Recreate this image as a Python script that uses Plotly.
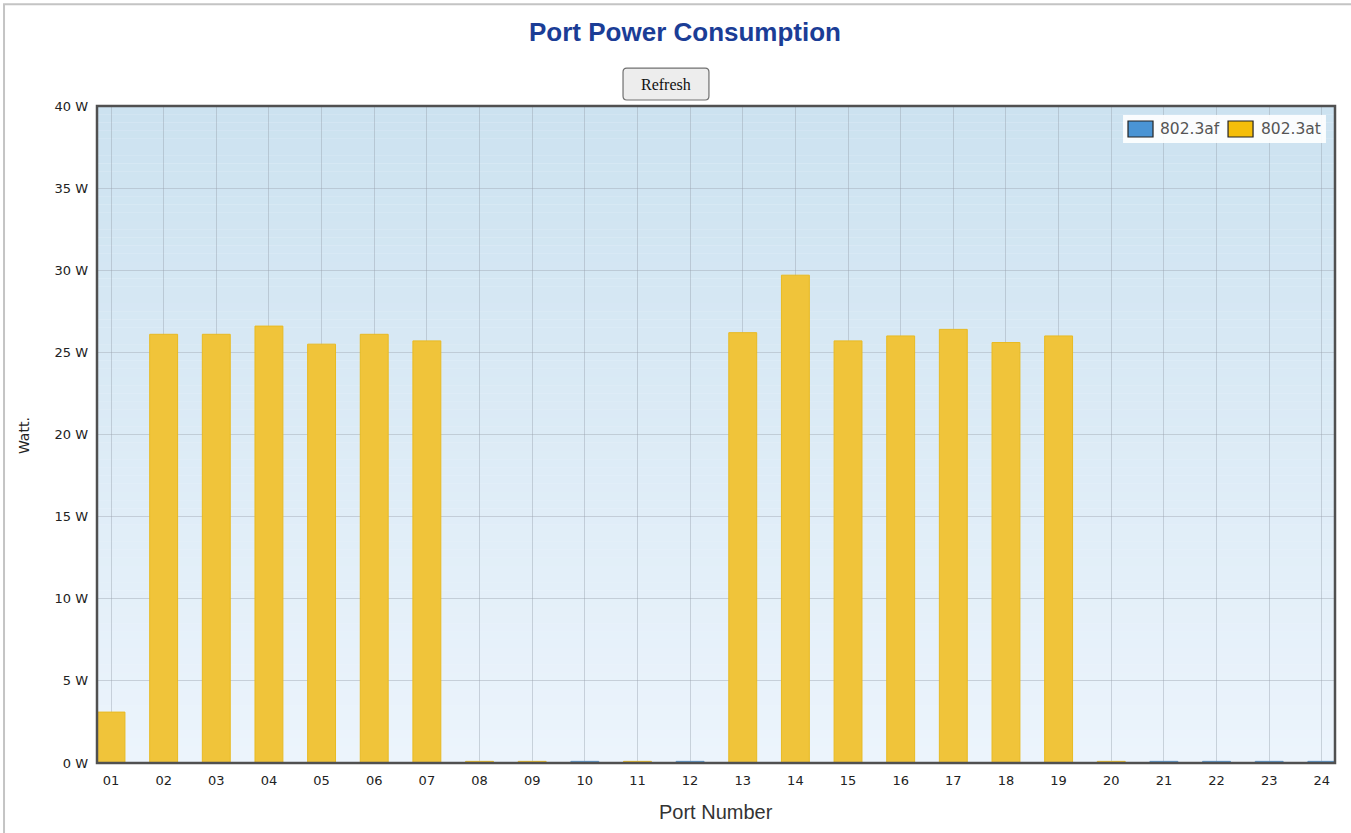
import plotly.graph_objects as go

# Port labels and measured power draw per PoE class (watts)
ports = [f"{i:02d}" for i in range(1, 25)]
af_watts = [None, None, None, None, None, None, None, None, None, 0.1, None, 0.1,
            None, None, None, None, None, None, None, None, 0.1, 0.1, 0.1, 0.1]
at_watts = [3.1, 26.1, 26.1, 26.6, 25.5, 26.1, 25.7, 0.1, 0.1, None, 0.1, None,
            26.2, 29.7, 25.7, 26.0, 26.4, 25.6, 26.0, 0.1, None, None, None, None]
y_ticks = list(range(0, 45, 5))
y_tick_text = [f"{v} W" for v in y_ticks]

Y_MAX = 40
TICK_FONT = dict(family="DejaVu Sans", size=13, color="#222222")
GRID_COLOR = "rgba(150,160,172,0.42)"

fig = go.Figure()
fig.add_trace(go.Bar(
    x=ports, y=af_watts, name="802.3af", width=0.53,
    marker=dict(color="#6FA8DA", line=dict(color="#5A95CC", width=1)),
))
fig.add_trace(go.Bar(
    x=ports, y=at_watts, name="802.3at", width=0.53,
    marker=dict(color="#F0C43A", line=dict(color="#E8BA22", width=1)),
))

shapes = []

# vertical blue gradient behind the plot area
n_bands = 80
top_rgb = (204, 226, 240)
bot_rgb = (236, 244, 252)
for i in range(n_bands):
    t = i / (n_bands - 1)
    r = round(bot_rgb[0] + (top_rgb[0] - bot_rgb[0]) * t)
    g = round(bot_rgb[1] + (top_rgb[1] - bot_rgb[1]) * t)
    b = round(bot_rgb[2] + (top_rgb[2] - bot_rgb[2]) * t)
    shapes.append(dict(
        type="rect", xref="paper", yref="y", layer="below",
        x0=0, x1=1, y0=Y_MAX * i / n_bands, y1=Y_MAX * (i + 1) / n_bands,
        fillcolor=f"rgb({r},{g},{b})", line=dict(width=0),
    ))

# dark frame round the plot area
shapes.append(dict(type="rect", xref="paper", yref="paper", x0=0, x1=1, y0=0, y1=1,
                   line=dict(color="#505050", width=2.5), layer="above"))

# light outer page border
shapes.append(dict(type="rect", xref="paper", yref="paper",
                   x0=-0.0751, x1=1.08, y0=-0.25, y1=1.155,
                   line=dict(color="#C4C4C4", width=2), layer="above"))

# Refresh button (rounded rectangle)
bx0, bx1, by0, by1 = 0.4249, 0.4943, 1.0091, 1.0578
rx, ry = 0.003, 0.006
btn_path = (f"M{bx0+rx},{by0} L{bx1-rx},{by0} Q{bx1},{by0} {bx1},{by0+ry} "
            f"L{bx1},{by1-ry} Q{bx1},{by1} {bx1-rx},{by1} L{bx0+rx},{by1} "
            f"Q{bx0},{by1} {bx0},{by1-ry} L{bx0},{by0+ry} Q{bx0},{by0} {bx0+rx},{by0} Z")
shapes.append(dict(type="path", xref="paper", yref="paper", path=btn_path,
                   fillcolor="#EDEDED", line=dict(color="#707070", width=1.2)))

# legend box and swatches
shapes.append(dict(type="rect", xref="paper", yref="paper",
                   x0=0.8288, x1=0.9927, y0=0.9437, y1=0.9863,
                   fillcolor="rgba(255,255,255,0.9)", line=dict(width=0), layer="above"))
shapes.append(dict(type="rect", xref="paper", yref="paper",
                   x0=0.8328, x1=0.8530, y0=0.9528, y1=0.9772,
                   fillcolor="#4A94D4", line=dict(color="#222222", width=1.2), layer="above"))
shapes.append(dict(type="rect", xref="paper", yref="paper",
                   x0=0.9136, x1=0.9338, y0=0.9528, y1=0.9772,
                   fillcolor="#F5BE0A", line=dict(color="#222222", width=1.2), layer="above"))

annotations = [
    dict(text="<b>Port Power Consumption</b>", xref="paper", yref="paper",
         x=0.475, y=1.1126, xanchor="center", yanchor="middle", showarrow=False,
         font=dict(family="Liberation Sans", size=26, color="#1B3D96")),
    dict(text="Refresh", xref="paper", yref="paper",
         x=(bx0 + bx1) / 2, y=(by0 + by1) / 2, xanchor="center", yanchor="middle",
         showarrow=False, font=dict(family="Liberation Serif", size=16, color="#111111")),
    dict(text="802.3af", xref="paper", yref="paper", x=0.857, y=0.965,
         xanchor="left", yanchor="middle", showarrow=False,
         font=dict(family="DejaVu Sans", size=15.5, color="#555555")),
    dict(text="802.3at", xref="paper", yref="paper", x=0.9386, y=0.965,
         xanchor="left", yanchor="middle", showarrow=False,
         font=dict(family="DejaVu Sans", size=15.5, color="#555555")),
    dict(text="Port Number", xref="paper", yref="paper", x=0.5, y=-0.0746,
         xanchor="center", yanchor="middle", showarrow=False,
         font=dict(family="Liberation Sans", size=20, color="#333333")),
    dict(text="Watt.", xref="paper", yref="paper", x=-0.0590, y=0.499,
         xanchor="center", yanchor="middle", showarrow=False, textangle=-90,
         font=dict(family="DejaVu Sans", size=14, color="#222222")),
]

fig.update_layout(
    width=1351, height=833,
    margin=dict(l=97, r=16, t=106, b=70),
    paper_bgcolor="white",
    plot_bgcolor="rgb(236,244,252)",
    barmode="overlay",
    showlegend=False,
    shapes=shapes,
    annotations=annotations,
)
fig.update_xaxes(
    type="category", range=[-0.266, 23.25],
    showgrid=True, gridcolor=GRID_COLOR, gridwidth=1,
    showline=False, zeroline=False, ticks="",
    tickfont=TICK_FONT, ticklabelstandoff=8,
)
fig.update_yaxes(
    range=[0, Y_MAX], tickvals=y_ticks, ticktext=y_tick_text,
    showgrid=True, gridcolor=GRID_COLOR, gridwidth=1,
    showline=False, zeroline=False, ticks="",
    tickfont=TICK_FONT, ticklabelstandoff=8,
)

fig.write_html("out.html")
